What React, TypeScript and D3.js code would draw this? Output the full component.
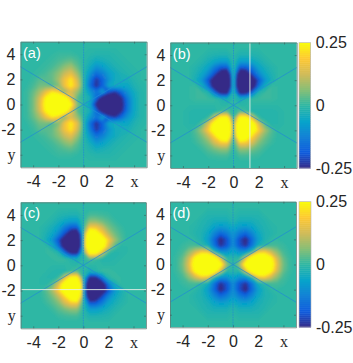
import React, {useEffect, useRef} from 'react';
import * as d3 from 'd3';

const parulaStops = ['#352a87', '#0f5cdd', '#1481d6', '#06a4ca', '#2eb7a4', '#87bf77', '#d1bb59', '#fec832', '#f9fb0e'];
const tickValues = [-4, -2, 0, 2, 4];
const barTicks = [-0.25, 0, 0.25];

// one quadrant of each map, x = 0..5 and y = 0..5 in steps of 0.5, units of 0.01
const quadrantA = [
    [0, -6, -26, -36, -40, -36, -27, -14, -5, -1, 0],
    [0, -3, -16, -32, -37, -33, -25, -13, -5, -1, 0],
    [0, -8, -14, -7, -19, -23, -16, -9, -4, -1, 0],
    [0, -15, -24, -17, -6, -3, -5, -5, -2, -0.5, 0],
    [0, -13, -23, -17, -9, -4, -3, -3, -1, 0, 0],
    [0, -8, -15, -12, -7, -4, -2, -1, -0.5, 0, 0],
    [0, -4, -9, -7, -4, -2, -1, -0.5, 0, 0, 0],
    [0, -2, -4, -3, -2, -1, -0.5, 0, 0, 0, 0],
    [0, -0.5, -1, -1, -1, -0.5, 0, 0, 0, 0, 0],
    [0, 0, 0, 0, 0, 0, 0, 0, 0, 0, 0],
    [0, 0, 0, 0, 0, 0, 0, 0, 0, 0, 0],
];
const quadrantB = [
    [0, 0, 0, 0, 0, 0, 0, 0, 0, 0, 0],
    [0, -3, -1, 1, 1, 1, 1, 0.5, 0, 0, 0],
    [0, -28, -28, -14, -1, 1, 1, 0.5, 0, 0, 0],
    [0, -55, -42, -32, -14, -3, 1, 0.5, 0, 0, 0],
    [0, -55, -44, -32, -19, -9, -3, 0, 0, 0, 0],
    [0, -42, -32, -20, -11, -5, -2, 0, 0, 0, 0],
    [0, -18, -18, -13, -6, -3, -1, 0, 0, 0, 0],
    [0, -7, -7, -5, -3, -1, 0, 0, 0, 0, 0],
    [0, -2, -2, -1.5, -1, 0, 0, 0, 0, 0, 0],
    [0, 0, 0, 0, 0, 0, 0, 0, 0, 0, 0],
    [0, 0, 0, 0, 0, 0, 0, 0, 0, 0, 0],
];
const quadrantC = [
    [0, 0, 0, 0, 0, 0, 0, 0, 0, 0, 0],
    [0, 3, 1, -1, -1, -0.5, 0, 0, 0, 0, 0],
    [0, 28, 28, 14, 1, -1, -0.5, 0, 0, 0, 0],
    [0, 55, 42, 32, 14, 3, -0.5, 0, 0, 0, 0],
    [0, 55, 44, 33, 19, 9, 3, 0, 0, 0, 0],
    [0, 42, 32, 20, 11, 5, 2, 0, 0, 0, 0],
    [0, 18, 18, 13, 6, 3, 1, 0, 0, 0, 0],
    [0, 7, 7, 5, 3, 1, 0, 0, 0, 0, 0],
    [0, 2, 2, 1.5, 1, 0, 0, 0, 0, 0, 0],
    [0, 0, 0, 0, 0, 0, 0, 0, 0, 0, 0],
    [0, 0, 0, 0, 0, 0, 0, 0, 0, 0, 0],
];
const quadrantD = [
    [0, 7, 30, 42, 46, 44, 31, 15, 5, 1, 0],
    [0, 0, 14, 34, 40, 38, 27, 13, 4, 1, 0],
    [-5, -9, -8, 0, 17, 19, 13, 7, 2, 0.5, 0],
    [-10, -19, -24, -14, -3, 0, 2, 2, 1, 0, 0],
    [-10, -20, -26, -16, -7, -2, 0, 0.5, 0, 0, 0],
    [-8, -13, -16, -11, -5, -2, -1, 0, 0, 0, 0],
    [-4, -7, -8, -6, -3, -1.5, -0.5, 0, 0, 0, 0],
    [-1, -3, -3, -3, -2, -1, 0, 0, 0, 0, 0],
    [0, -1, -1, -1, -1, 0, 0, 0, 0, 0, 0],
    [0, 0, 0, 0, 0, 0, 0, 0, 0, 0, 0],
    [0, 0, 0, 0, 0, 0, 0, 0, 0, 0, 0],
];

const panels = [
    {label: '(a)', q: quadrantA, mx: -1, my: 1, box: [20.5, 41.7, 146.7, 167.3], whiteX: null, whiteY: null},
    {label: '(b)', q: quadrantB, mx: 1, my: -1, box: [170.3, 42.5, 296.7, 168], whiteX: 1.3, whiteY: null},
    {label: '(c)', q: quadrantC, mx: -1, my: -1, box: [20.7, 202.3, 146, 328.3], whiteX: null, whiteY: -1.93},
    {label: '(d)', q: quadrantD, mx: 1, my: 1, box: [170, 201.7, 296, 327.3], whiteX: null, whiteY: null},
];
const colorbars = [[299, 42.7, 310.7, 168], [299, 201.7, 311, 327]];

const nodalLines = [[[-5, 3], [5, -3]], [[-5, -3], [5, 3]]];
const FONT = '"Liberation Sans", Arial, sans-serif';

export default function App() {
    const svgRef = useRef<SVGSVGElement>(null);

    useEffect(() => {
        const svg = d3.select(svgRef.current);
        svg.selectAll('*').remove();

        const color = d3.scaleLinear<string>()
            .domain(parulaStops.map((_, i) => -25 + 50 * i / (parulaStops.length - 1)))
            .range(parulaStops)
            .interpolate(d3.interpolateRgb)
            .clamp(true);

        const defs = svg.append('defs');
        defs.append('filter').attr('id', 'soft')
            .attr('x', '-5%').attr('y', '-5%').attr('width', '110%').attr('height', '110%')
            .append('feGaussianBlur').attr('stdDeviation', 1);

        const n = 21;
        const levels = d3.range(-25, 25.01, 0.5);

        panels.forEach((p, idx) => {
            const [x0, y0, x1, y1] = p.box;
            const x = d3.scaleLinear().domain([-5, 5]).range([x0, x1]);
            const y = d3.scaleLinear().domain([-5, 5]).range([y1, y0]);

            const grid: number[] = [];
            for (let j = 0; j < n; j++) {
                const yv = 5 - j * 0.5;
                for (let i = 0; i < n; i++) {
                    const xv = -5 + i * 0.5;
                    const v = p.q[Math.abs(yv) * 2][Math.abs(xv) * 2];
                    grid.push(v * (xv < 0 ? p.mx : 1) * (yv < 0 ? p.my : 1));
                }
            }

            const contours = d3.contours().size([n, n]).thresholds(levels)(grid);
            const path = d3.geoPath(d3.geoTransform({
                point(px, py) {
                    this.stream.point(x((px - 0.5) * 0.5 - 5), y(5 - (py - 0.5) * 0.5));
                },
            }));

            defs.append('clipPath').attr('id', `clip${idx}`)
                .append('rect').attr('x', x0).attr('y', y0).attr('width', x1 - x0).attr('height', y1 - y0);

            const g = svg.append('g');
            const map = g.append('g').attr('clip-path', `url(#clip${idx})`)
                .append('g').attr('filter', 'url(#soft)');
            map.append('rect').attr('x', x0 - 5).attr('y', y0 - 5)
                .attr('width', x1 - x0 + 10).attr('height', y1 - y0 + 10).attr('fill', color(-25));
            map.selectAll('path').data(contours).enter().append('path')
                .attr('d', path as any)
                .attr('fill', d => color(d.value));

            // nodal lines
            const line = d3.line().x(d => x(d[0])).y(d => y(d[1]));
            nodalLines.forEach(l => {
                g.append('path').attr('d', line(l as any)).attr('fill', 'none')
                    .attr('stroke', '#1f8ad6').attr('stroke-width', 0.7);
            });
            g.append('line').attr('x1', x(0)).attr('x2', x(0)).attr('y1', y0).attr('y2', y1)
                .attr('stroke', '#1f8ad6').attr('stroke-width', 0.8).attr('stroke-dasharray', '1.5 1');

            if (p.whiteX !== null) {
                g.append('line').attr('x1', x(p.whiteX)).attr('x2', x(p.whiteX)).attr('y1', y0).attr('y2', y1)
                    .attr('stroke', '#e8efe8').attr('stroke-width', 0.9);
            }
            if (p.whiteY !== null) {
                g.append('line').attr('x1', x0).attr('x2', x1).attr('y1', y(p.whiteY)).attr('y2', y(p.whiteY))
                    .attr('stroke', '#e8efe8').attr('stroke-width', 0.9);
            }

            // axes, ticks pointing inward on all four sides
            const styleAxis = (a: any) => {
                a.select('.domain').attr('stroke', '#5f7f78').attr('stroke-width', 0.8);
                a.selectAll('.tick line').attr('stroke', '#3d4f4c').attr('stroke-width', 0.5);
                a.selectAll('text').attr('fill', '#262626').attr('font-family', FONT).attr('font-size', 16);
            };
            const bottom = g.append('g').attr('transform', `translate(0,${y1})`)
                .call(d3.axisBottom(x).tickValues(tickValues).tickSizeInner(-2).tickSizeOuter(0).tickPadding(8.5)
                    .tickFormat(v => (v === 4 ? 'x' : String(v))));
            styleAxis(bottom);
            bottom.selectAll('text').filter((d: any) => d === 4).attr('font-family', '"Liberation Serif", serif');

            const left = g.append('g').attr('transform', `translate(${x0},0)`)
                .call(d3.axisLeft(y).tickValues(tickValues).tickSizeInner(-2).tickSizeOuter(0).tickPadding(5)
                    .tickFormat(v => (v === -4 ? 'y' : String(v))));
            styleAxis(left);
            left.selectAll('text').filter((d: any) => d === -4).attr('font-family', '"Liberation Serif", serif');

            const top = g.append('g').attr('transform', `translate(0,${y0})`)
                .call(d3.axisTop(x).tickValues(tickValues).tickSizeInner(-2).tickSizeOuter(0).tickFormat(() => ''));
            styleAxis(top);
            const right = g.append('g').attr('transform', `translate(${x1},0)`)
                .call(d3.axisRight(y).tickValues(tickValues).tickSizeInner(-2).tickSizeOuter(0).tickFormat(() => ''));
            styleAxis(right);

            g.append('text').attr('x', x0 + 2.5).attr('y', y0 + 16).text(p.label)
                .attr('fill', 'white').attr('font-family', FONT).attr('font-size', 14.5);
        });

        colorbars.forEach(([x0, y0, x1, y1]) => {
            const y = d3.scaleLinear().domain([-0.25, 0.25]).range([y1, y0]);
            const steps = d3.range(-0.25, 0.25, 0.5 / 64);
            const g = svg.append('g');
            g.selectAll('rect').data(steps).enter().append('rect')
                .attr('x', x0).attr('width', x1 - x0)
                .attr('y', d => y(d + 0.5 / 64))
                .attr('height', d => y(d) - y(d + 0.5 / 64) + 0.5)
                .attr('fill', d => color((d + 0.25 / 64) * 100));
            g.append('rect').attr('x', x0).attr('y', y0).attr('width', x1 - x0).attr('height', y1 - y0)
                .attr('fill', 'none').attr('stroke', '#b5b5b5').attr('stroke-width', 0.6);
            const axis = g.append('g').attr('transform', `translate(${x1},0)`)
                .call(d3.axisRight(y).tickValues(barTicks).tickSize(0).tickPadding(5)
                    .tickFormat(v => String(v)));
            axis.select('.domain').remove();
            axis.selectAll('text').attr('fill', '#262626').attr('font-family', FONT).attr('font-size', 16);
        });
    }, []);

    return <svg ref={svgRef} width={353} height={363}
                style={{position: 'absolute', left: 0, top: 0, background: 'white'}}/>;
}
